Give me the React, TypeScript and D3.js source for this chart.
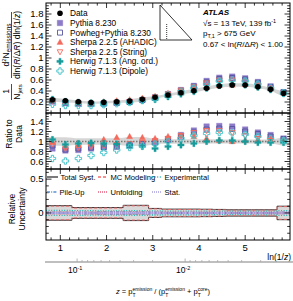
import React from 'react';
import * as d3 from 'd3';

const WIDTH = 293;
const HEIGHT = 301;
const FONT = "'Liberation Sans', Arial, Helvetica, sans-serif";

// ln(1/z) bin edges
const binEdges = [0.69, 0.97, 1.25, 1.53, 1.80, 2.08, 2.36, 2.64, 2.91, 3.19, 3.47, 3.75, 4.03, 4.30, 4.58, 4.86, 5.14, 5.41, 5.69, 5.97];

// unfolded data, 1/N dN/dln(R/dR)dln(1/z)
const dataValues = [0.240, 0.224, 0.205, 0.190, 0.195, 0.205, 0.218, 0.249, 0.285, 0.327, 0.369, 0.405, 0.449, 0.490, 0.509, 0.509, 0.478, 0.430, 0.358];

// MC / data ratios
const pythiaRatio = [0.86, 0.82, 0.83, 0.86, 0.88, 0.90, 0.93, 0.96, 1.00, 1.05, 1.13, 1.22, 1.30, 1.31, 1.30, 1.24, 1.18, 1.13, 1.06];
const powhegRatio = [0.92, 0.84, 0.86, 0.88, 0.89, 0.90, 0.92, 0.95, 0.98, 1.03, 1.10, 1.18, 1.24, 1.26, 1.25, 1.20, 1.15, 1.10, 1.05];
const ahadicRatio = [0.98, 0.90, 0.92, 0.95, 1.04, 1.08, 1.10, 1.08, 1.06, 1.10, 1.12, 1.10, 1.06, 1.02, 1.00, 1.02, 1.04, 1.04, 1.04];
const stringRatio = [0.95, 0.86, 0.88, 0.90, 0.92, 0.94, 0.96, 0.98, 1.02, 1.06, 1.12, 1.18, 1.22, 1.22, 1.18, 1.12, 1.06, 1.02, 1.00];
const angOrdRatio = [1.04, 0.94, 0.96, 0.97, 0.96, 0.95, 0.93, 0.90, 0.86, 0.90, 0.93, 0.96, 1.00, 1.02, 1.02, 1.00, 0.98, 0.98, 0.98];
const dipoleRatio = [0.66, 0.61, 0.66, 0.72, 0.78, 0.83, 0.88, 0.92, 0.95, 1.00, 1.06, 1.12, 1.16, 1.18, 1.17, 1.14, 1.10, 1.06, 1.02];

// relative uncertainties
const totalSyst = [0.108, 0.108, 0.080, 0.080, 0.080, 0.080, 0.113, 0.113, 0.067, 0.057, 0.057, 0.057, 0.055, 0.052, 0.047, 0.047, 0.047, 0.047, 0.100];
const mcModeling = [0.100, 0.100, 0.072, 0.072, 0.072, 0.072, 0.105, 0.105, 0.060, 0.050, 0.050, 0.050, 0.048, 0.045, 0.040, 0.040, 0.040, 0.040, 0.094];
const experimental = [0.036, 0.036, 0.034, 0.033, 0.032, 0.032, 0.034, 0.034, 0.030, 0.028, 0.028, 0.027, 0.027, 0.026, 0.026, 0.026, 0.027, 0.028, 0.035];
const pileUp = [0.012, 0.012, 0.012, 0.013, 0.016, 0.016, 0.018, 0.016, 0.012, 0.010, 0.010, 0.010, 0.010, 0.010, 0.010, 0.010, 0.010, 0.010, 0.012];
const unfolding = [0.010, 0.010, 0.009, 0.009, 0.009, 0.009, 0.010, 0.010, 0.008, 0.008, 0.008, 0.008, 0.008, 0.008, 0.008, 0.008, 0.009, 0.009, 0.010];
const statUnc = [0.006, 0.006, 0.005, 0.005, 0.005, 0.005, 0.005, 0.005, 0.005, 0.005, 0.005, 0.005, 0.005, 0.005, 0.005, 0.005, 0.006, 0.006, 0.008];

const xTicks = [1, 2, 3, 4, 5];
const topTicks = [0.2, 0.4, 0.6, 0.8, 1, 1.2, 1.4, 1.6, 1.8];
const ratioTicks = [0.6, 0.8, 1, 1.2, 1.4];
const uncTicks = [0, 0.5];
const zMajor = [0.1, 0.01];
const zLabels = ['1', '2'];

const series = [
  { name: 'Pythia 8.230', ratio: pythiaRatio, kind: 'square', color: '#8d7ac8' },
  { name: 'Powheg+Pythia 8.230', ratio: powhegRatio, kind: 'squareOpen', color: '#55559e' },
  { name: 'Sherpa 2.2.5 (AHADIC)', ratio: ahadicRatio, kind: 'triUp', color: '#f46a5c' },
  { name: 'Sherpa 2.2.5 (String)', ratio: stringRatio, kind: 'triDownOpen', color: '#f46a5c' },
  { name: 'Herwig 7.1.3 (Ang. ord.)', ratio: angOrdRatio, kind: 'cross', color: '#179c9c' },
  { name: 'Herwig 7.1.3 (Dipole)', ratio: dipoleRatio, kind: 'crossOpen', color: '#3fc3c8' },
];

const uncComponents = [
  { name: 'MC Modeling', values: mcModeling, color: '#f26d6d', dash: '3,2', width: 1 },
  { name: 'Experimental', values: experimental, color: '#25b3b3', dash: '1,1.6', width: 1.3 },
  { name: 'Pile-Up', values: pileUp, color: '#5a8fd0', dash: '3,1.2,1,1.2', width: 1.2 },
  { name: 'Unfolding', values: unfolding, color: '#e4607e', dash: '1,1', width: 1.2 },
  { name: 'Stat.', values: statUnc, color: '#a79fdc', dash: '1,1', width: 1.2 },
];

const L = 46, R = 290;
const P1 = [3, 113], P2 = [113, 169], P3 = [169, 240];

const x = d3.scaleLinear().domain([0.69, 5.97]).range([L, R]);
const yTop = d3.scaleLinear().domain([0, 2]).range([P1[1], P1[0]]);
const yRatio = d3.scaleLinear().domain([0.45, 1.57]).range([P2[1], P2[0]]);
const yUnc = d3.scaleLinear().domain([-0.4, 0.65]).range([P3[1], P3[0]]);
const zScale = d3.scaleLog().domain([0.194, 0.00107]).range([L, R]);

const centers = d3.pairs(binEdges).map(([a, b]) => (a + b) / 2);

function Marker({ kind, cx, cy, color }: { kind: string; cx: number; cy: number; color: string }) {
  if (kind === 'circle') return <circle cx={cx} cy={cy} r={2.8} fill={color} />;
  let d = '';
  if (kind === 'square' || kind === 'squareOpen') {
    const h = kind === 'square' ? 2.8 : 2.5;
    d = `M${cx - h},${cy - h}H${cx + h}V${cy + h}H${cx - h}Z`;
  } else if (kind === 'triUp') {
    d = `M${cx},${cy - 3.3}L${cx + 3.1},${cy + 2.2}L${cx - 3.1},${cy + 2.2}Z`;
  } else if (kind === 'triDownOpen') {
    d = `M${cx},${cy + 3}L${cx + 2.8},${cy - 2}L${cx - 2.8},${cy - 2}Z`;
  } else {
    const r = 3.2, w = 1.1;
    d = `M${cx - w},${cy - r}H${cx + w}V${cy - w}H${cx + r}V${cy + w}H${cx + w}V${cy + r}H${cx - w}V${cy + w}H${cx - r}V${cy - w}H${cx - w}Z`;
  }
  const open = kind.endsWith('Open');
  return <path d={d} fill={open ? 'none' : color} stroke={color} strokeWidth={open ? 0.9 : 0.3} />;
}

function PanelFrame({ top, bottom, y, major, minor }: { top: number; bottom: number; y: any; major: number[]; minor: number[] }) {
  const lines: any[] = [];
  const xMinor = d3.range(4, 30).map(i => i / 5);
  xMinor.forEach((v, i) => {
    const len = Math.abs(v - Math.round(v)) < 1e-6 ? 5 : 2.6;
    const px = x(v);
    lines.push(<line key={'xb' + i} x1={px} x2={px} y1={bottom} y2={bottom - len} />);
    lines.push(<line key={'xt' + i} x1={px} x2={px} y1={top} y2={top + len} />);
  });
  minor.forEach((v, i) => {
    const isMajor = major.some(m => Math.abs(m - v) < 1e-6);
    const len = isMajor ? 5.5 : 2.8;
    const py = y(v);
    lines.push(<line key={'yl' + i} x1={L} x2={L + len} y1={py} y2={py} />);
    lines.push(<line key={'yr' + i} x1={R} x2={R - len} y1={py} y2={py} />);
  });
  return (
    <g stroke="#000" strokeWidth={0.8} fill="none">
      {lines}
      <rect x={L} y={top} width={R - L} height={bottom - top} strokeWidth={1} />
    </g>
  );
}

function stepPoints(values: number[], sign: number) {
  return binEdges.map((e, i) => [x(e), yUnc(sign * values[Math.min(i, values.length - 1)])] as [number, number]);
}

export default function App() {
  const stepLine = d3.line().curve(d3.curveStepAfter);

  // smooth bands following data
  const bandTop = d3.area<number>()
    .curve(d3.curveMonotoneX)
    .x((d, i) => (i === 0 ? L : i === centers.length + 1 ? R : x(centers[i - 1])))
    .y0(d => yTop(dataValues[d] * (1 - totalSyst[d] * 1.3)))
    .y1(d => yTop(dataValues[d] * (1 + totalSyst[d] * 1.3)));
  const bandIdx = [0, ...centers.map((c, i) => i), centers.length - 1];

  const ratioBand = d3.area<number>()
    .curve(d3.curveMonotoneX)
    .x((d, i) => (i === 0 ? L : i === centers.length + 1 ? R : x(centers[i - 1])))
    .y0(d => yRatio(1 - totalSyst[d] * 0.8))
    .y1(d => yRatio(1 + totalSyst[d] * 0.8));

  const totalArea = d3.area<[number, number]>()
    .curve(d3.curveStepAfter)
    .x(d => d[0])
    .y0((d, i) => yUnc(-totalSyst[Math.min(i, totalSyst.length - 1)]))
    .y1((d, i) => yUnc(totalSyst[Math.min(i, totalSyst.length - 1)]));

  const zMinor = [0.1, 0.01, 0.001].flatMap(dec => d3.range(2, 10).map(k => k * dec))
    .filter(v => v < 0.194 && v > 0.00107);

  return (
    <svg width={WIDTH} height={HEIGHT} style={{ position: 'absolute', left: 0, top: 0, background: '#fff' }}
      fontFamily={FONT}>
      {/* ---------- top panel ---------- */}
      <path d={bandTop(bandIdx) || ''} fill="#d6d6d6" />
      {series.map(s => (
        <g key={s.name}>
          {centers.map((c, i) => (
            <Marker key={i} kind={s.kind} cx={x(c)} cy={yTop(dataValues[i] * s.ratio[i])} color={s.color} />
          ))}
        </g>
      ))}
      {centers.map((c, i) => <Marker key={i} kind="circle" cx={x(c)} cy={yTop(dataValues[i])} color="#000" />)}
      <PanelFrame top={P1[0]} bottom={P1[1]} y={yTop} major={topTicks} minor={d3.range(1, 40).map(i => i * 0.05)} />
      {topTicks.map(t => (
        <text key={t} x={43.5} y={yTop(t)} dy="0.35em" textAnchor="end" fontSize={9.5}>{String(t)}</text>
      ))}

      {/* legend */}
      <Marker kind="circle" cx={60} cy={13.3} color="#000" />
      <text x={70} y={13.3} dy="0.35em" fontSize={8.3}>Data</text>
      {series.map((s, i) => (
        <g key={s.name}>
          <Marker kind={s.kind} cx={60} cy={23 + i * 9.6} color={s.color} />
          <text x={70} y={23 + i * 9.6} dy="0.35em" fontSize={8.3}>{s.name}</text>
        </g>
      ))}

      {/* lund plane sketch */}
      <g stroke="#000" strokeWidth={0.8} fill="none">
        <path d="M160,5V40H192Z" />
        <line x1={166.7} x2={166.7} y1={24} y2={40} strokeDasharray="1,1" />
      </g>

      <text x={203} y={15} fontSize={8} fontWeight="bold" fontStyle="italic">ATLAS</text>
      <text x={203} y={26} fontSize={8}>√s = 13 TeV, 139 fb<tspan fontSize={5.5} dy={-3}>-1</tspan></text>
      <text x={203} y={36} fontSize={8}>p<tspan fontSize={5.5} dy={2}>T,1</tspan><tspan dy={-2}> &gt; 675 GeV</tspan></text>
      <text x={203} y={46.5} fontSize={8}>0.67 &lt; ln(<tspan fontStyle="italic">R</tspan>/Δ<tspan fontStyle="italic">R</tspan>) &lt; 1.00</text>

      {/* y title top */}
      <g fontSize={8.5}>
        <text transform="translate(6.5,45) rotate(-90)" textAnchor="middle" dy="0.35em">
          d<tspan fontSize={6} dy={-3}>2</tspan><tspan dy={3}>N</tspan><tspan fontSize={6.5} dy={2}>emissions</tspan>
        </text>
        <line x1={11.5} x2={11.5} y1={12} y2={78} stroke="#000" strokeWidth={0.7} />
        <text transform="translate(17,45) rotate(-90)" textAnchor="middle" dy="0.35em">
          dln(<tspan fontStyle="italic">R</tspan>/Δ<tspan fontStyle="italic">R</tspan>) dln(1/<tspan fontStyle="italic">z</tspan>)
        </text>
        <text transform="translate(6.5,91.5) rotate(-90)" textAnchor="middle" dy="0.35em">1</text>
        <line x1={11.5} x2={11.5} y1={84} y2={100} stroke="#000" strokeWidth={0.7} />
        <text transform="translate(17,92) rotate(-90)" textAnchor="middle" dy="0.35em">
          N<tspan fontSize={6} dy={2}>jets</tspan>
        </text>
      </g>

      {/* ---------- ratio panel ---------- */}
      <path d={ratioBand(bandIdx) || ''} fill="#d6d6d6" />
      <line x1={L} x2={R} y1={yRatio(1)} y2={yRatio(1)} stroke="#777" strokeWidth={1.3} strokeDasharray="1.5,1.5" />
      {series.map(s => (
        <g key={s.name}>
          {centers.map((c, i) => (
            <Marker key={i} kind={s.kind} cx={x(c)} cy={yRatio(s.ratio[i])} color={s.color} />
          ))}
        </g>
      ))}
      <PanelFrame top={P2[0]} bottom={P2[1]} y={yRatio} major={ratioTicks} minor={d3.range(10, 32).map(i => i * 0.05)} />
      {ratioTicks.map(t => (
        <text key={t} x={43.5} y={yRatio(t)} dy="0.35em" textAnchor="end" fontSize={9.5}>{String(t)}</text>
      ))}
      <g fontSize={8.5} textAnchor="middle">
        <text transform="translate(9,134) rotate(-90)" dy="0.35em">Ratio to</text>
        <text transform="translate(19,134) rotate(-90)" dy="0.35em">Data</text>
      </g>

      {/* ---------- uncertainty panel ---------- */}
      <path d={totalArea(stepPoints(totalSyst, 1)) || ''} fill="#d9d9d9" />
      {[1, -1].map(sg => (
        <path key={sg} d={stepLine(stepPoints(totalSyst, sg)) || ''} fill="none" stroke="#222" strokeWidth={0.9} />
      ))}
      {uncComponents.map(c => [1, -1].map(sg => (
        <path key={c.name + sg} d={stepLine(stepPoints(c.values, sg)) || ''} fill="none"
          stroke={c.color} strokeWidth={c.width} strokeDasharray={c.dash} />
      )))}
      <PanelFrame top={P3[0]} bottom={P3[1]} y={yUnc} major={uncTicks} minor={d3.range(-3, 7).map(i => i * 0.1)} />
      {uncTicks.map(t => (
        <text key={t} x={43.5} y={yUnc(t)} dy="0.35em" textAnchor="end" fontSize={9.5}>{String(t)}</text>
      ))}
      <g fontSize={8.5} textAnchor="middle">
        <text transform="translate(12,209) rotate(-90)" dy="0.35em">Relative</text>
        <text transform="translate(22,209) rotate(-90)" dy="0.35em">Uncertainty</text>
      </g>

      {/* uncertainty legend */}
      <g fontSize={7.6}>
        <line x1={47} x2={58} y1={177} y2={177} stroke="#222" strokeWidth={1.2} />
        <text x={60.5} y={177} dy="0.35em">Total Syst.</text>
        {uncComponents.map((c, i) => {
          const col = [1, 2, 0, 1, 2][i];
          const row = i < 2 ? 0 : 1;
          const lx = [47, 98, 152][col];
          const ly = 177 + row * 15;
          return (
            <g key={c.name}>
              <line x1={lx} x2={lx + 10} y1={ly} y2={ly} stroke={c.color} strokeWidth={1.6} strokeDasharray={c.dash} />
              <text x={lx + 12.5} y={ly} dy="0.35em">{c.name}</text>
            </g>
          );
        })}
      </g>

      {/* x axis labels */}
      {xTicks.map(t => (
        <text key={t} x={x(t)} y={248} dy="0.35em" textAnchor="middle" fontSize={9.5}>{t}</text>
      ))}
      <text x={291} y={257} dy="0.35em" textAnchor="end" fontSize={8.5}>ln(1/<tspan fontStyle="italic">z</tspan>)</text>

      {/* z axis */}
      <g stroke="#aaa">
        <line x1={L - 1} x2={WIDTH} y1={262} y2={262} strokeWidth={1.4} />
        {zMinor.map(v => <line key={v} x1={zScale(v)} x2={zScale(v)} y1={262} y2={260} strokeWidth={0.8} />)}
        {zMajor.map(v => <line key={v} x1={zScale(v)} x2={zScale(v)} y1={262} y2={258.5} strokeWidth={0.9} />)}
      </g>
      {zMajor.map((v, i) => (
        <text key={v} x={zScale(v) - 2} y={273} textAnchor="middle" fontSize={8.5}>
          10<tspan fontSize={5.5} dy={-3.5}>-{zLabels[i]}</tspan>
        </text>
      ))}
      <text x={116} y={294} fontSize={7.5}>
        <tspan fontStyle="italic">z</tspan> = p
        <tspan fontSize={5} dy={-3}>emission</tspan><tspan fontSize={5} dy={5.5} dx={-19.7}>T</tspan>
        <tspan dy={-2.5} dx={16.7}> / (p</tspan>
        <tspan fontSize={5} dy={-3}>emission</tspan><tspan fontSize={5} dy={5.5} dx={-19.7}>T</tspan>
        <tspan dy={-2.5} dx={16.7}> + p</tspan>
        <tspan fontSize={5} dy={-3}>core</tspan><tspan fontSize={5} dy={5.5} dx={-9.7}>T</tspan>
        <tspan dy={-2.5} dx={6.7}>)</tspan>
      </text>
    </svg>
  );
}
